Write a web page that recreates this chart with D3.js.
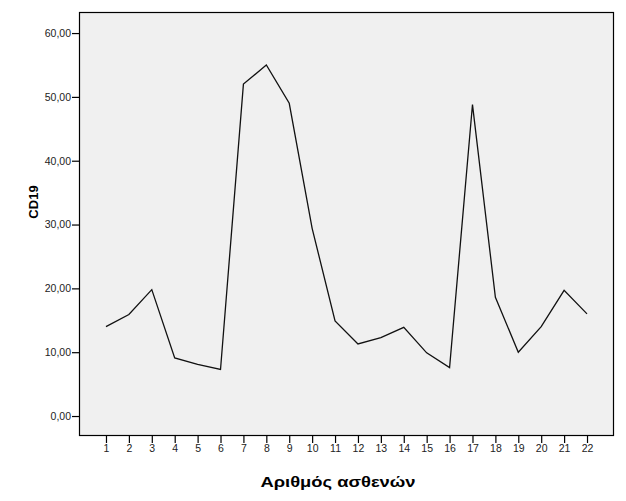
<!DOCTYPE html>
<html><head><meta charset="utf-8">
<script src="https://cdn.jsdelivr.net/npm/d3@7"></script>
<style>body{margin:0;background:#fff;} svg{display:block;}</style>
</head><body>
<svg id="c" width="626" height="501"></svg>
<script>
const patients = [1,2,3,4,5,6,7,8,9,10,11,12,13,14,15,16,17,18,19,20,21,22];
const cd19 = [14.0,15.9,19.8,9.1,8.1,7.3,52.0,55.0,49.0,29.4,14.9,11.3,12.3,13.9,9.9,7.6,48.8,18.6,10.0,14.0,19.7,16.0];
const yTicks = [0,10,20,30,40,50,60];
const xTitle = "Αριθμός ασθενών";
const yTitle = "CD19";

const svg = d3.select("#c");
const L=79, T=12, R=614, B=436;
const x = d3.scaleLinear().domain([-0.178, 23.178]).range([L, R]);
const y = d3.scaleLinear().domain([-3.13, 63.3]).range([B, T]);
const fmt = v => v.toFixed(2).replace(".", ",");

svg.append("rect").attr("x",L).attr("y",T).attr("width",R-L).attr("height",B-T)
  .attr("fill","#f0f0f0");

const yAxis = svg.append("g").attr("transform",`translate(${L},0)`)
  .call(d3.axisLeft(y).tickValues(yTicks).tickFormat(fmt).tickSize(7).tickPadding(1));
const xAxis = svg.append("g").attr("transform",`translate(0,${B})`)
  .call(d3.axisBottom(x).tickValues(patients).tickFormat(d3.format("d")).tickSize(7).tickPadding(2));
[yAxis,xAxis].forEach(g=>{
  g.select(".domain").remove();
  g.selectAll("line").attr("stroke","#000").attr("stroke-width",1.2);
  g.selectAll("text").attr("fill","#222").style("font-family","'Liberation Sans', Arial, sans-serif").style("font-size","10.5px");
});

svg.append("rect").attr("x",L+0.5).attr("y",T+0.5).attr("width",R-L-1).attr("height",B-T-1)
  .attr("fill","none").attr("stroke","#000").attr("stroke-width",1.2);

const line = d3.line().x((d,i)=>x(patients[i])).y(d=>y(d));
svg.append("path").datum(cd19).attr("d",line).attr("fill","none")
  .attr("stroke","#111").attr("stroke-width",1.3).attr("stroke-linejoin","miter");

svg.append("text").attr("x",338).attr("y",487).attr("text-anchor","middle")
  .style("font-family","'Liberation Sans', Arial, sans-serif").style("font-size","15.5px").style("font-weight","bold")
  .attr("textLength",155).attr("lengthAdjust","spacingAndGlyphs")
  .text(xTitle);
svg.append("text").attr("transform","translate(38,202) rotate(-90)").attr("text-anchor","middle")
  .style("font-family","'Liberation Sans', Arial, sans-serif").style("font-size","13px").style("font-weight","bold")
  .text(yTitle);
</script>
</body></html>
